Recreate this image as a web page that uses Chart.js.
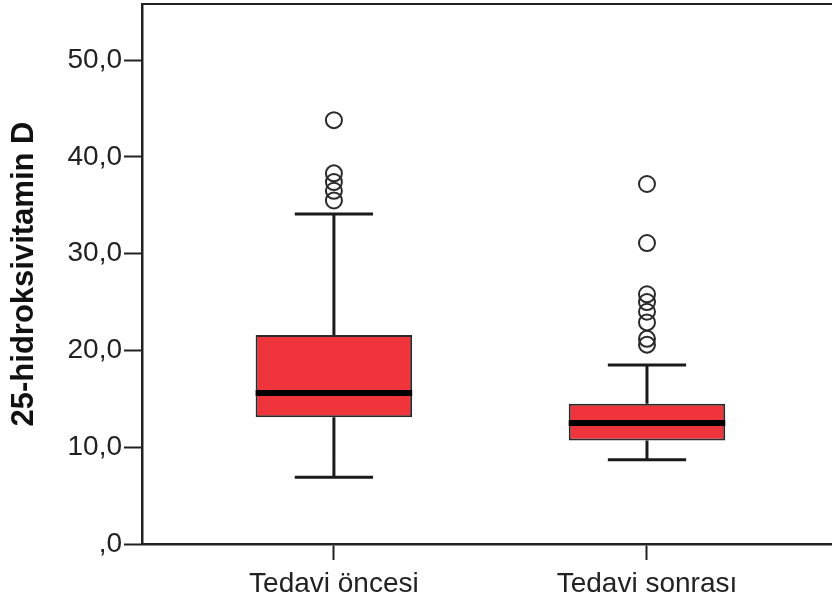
<!DOCTYPE html>
<html>
<head>
<meta charset="utf-8">
<script src="https://cdn.jsdelivr.net/npm/chart.js@4"></script>
<style>
  html, body { margin: 0; padding: 0; background: #fff; }
</style>
</head>
<body>
<canvas id="boxChart" width="832" height="603"></canvas>
<script>
// values
const groups = ["Tedavi öncesi", "Tedavi sonrası"];
const q1 = [13.1, 10.7];
const median = [15.6, 12.5];
const q3 = [21.6, 14.5];
const whiskerLow = [6.9, 8.7];
const whiskerHigh = [34.1, 18.5];
const outliers = [
  [43.8, 38.3, 37.4, 36.5, 35.5],
  [37.2, 31.1, 25.8, 25.0, 24.0, 22.9, 21.2, 20.6]
];
const yTicks = [0, 10, 20, 30, 40, 50];

const BOX_HALF = 0.25;
const CAP_HALF = 0.125;

document.addEventListener("DOMContentLoaded", function() {
  const boxes = groups.map((g, i) => ({ x: i + 1, y: [q1[i], q3[i]] }));

  const whiskers = [];
  groups.forEach((g, i) => {
    const x = i + 1;
    whiskers.push({ x: x - CAP_HALF, y: whiskerLow[i] }, { x: x + CAP_HALF, y: whiskerLow[i] }, { x: x, y: null });
    whiskers.push({ x: x, y: whiskerLow[i] }, { x: x, y: q1[i] }, { x: x, y: null });
    whiskers.push({ x: x, y: q3[i] }, { x: x, y: whiskerHigh[i] }, { x: x, y: null });
    whiskers.push({ x: x - CAP_HALF, y: whiskerHigh[i] }, { x: x + CAP_HALF, y: whiskerHigh[i] }, { x: x, y: null });
  });

  const medians = [];
  groups.forEach((g, i) => {
    medians.push({ x: i + 1 - BOX_HALF, y: median[i] }, { x: i + 1 + BOX_HALF, y: median[i] }, { x: i + 1, y: null });
  });

  const outlierPoints = [];
  outliers.forEach((list, i) => list.forEach(v => outlierPoints.push({ x: i + 1, y: v })));

  const tickFont = { family: "'Liberation Sans', Arial, sans-serif", size: 28 };
  const ink = "#222";

  const ctx = document.getElementById("boxChart").getContext("2d");
  new Chart(ctx, {
    type: "bar",
    data: {
      datasets: [{
        type: "bar",
        data: boxes,
        backgroundColor: "#f0343c",
        borderColor: "#2a2a2a",
        borderWidth: 2,
        borderSkipped: false,
        barPercentage: 1,
        categoryPercentage: 0.5,
        order: 3
      }, {
        type: "line",
        data: whiskers,
        borderColor: "#1a1a1a",
        borderWidth: 3,
        pointRadius: 0,
        spanGaps: false,
        order: 4
      }, {
        type: "line",
        data: medians,
        borderColor: "#000",
        borderWidth: 6,
        borderCapStyle: "butt",
        pointRadius: 0,
        spanGaps: false,
        order: 1
      }, {
        type: "scatter",
        data: outlierPoints,
        pointRadius: 8,
        pointBorderWidth: 2,
        pointBorderColor: "#2a2a2a",
        pointBackgroundColor: "rgba(255,255,255,0)",
        order: 0
      }]
    },
    options: {
      responsive: false,
      animation: false,
      layout: { padding: 0, autoPadding: false },
      plugins: { legend: { display: false }, tooltip: { enabled: false } },
      scales: {
        x: {
          type: "linear",
          position: "bottom",
          offset: false,
          min: 0.387,
          max: 2.591,
          afterBuildTicks: scale => { scale.ticks = groups.map((g, i) => ({ value: i + 1 })); },
          afterFit: scale => { scale.height = 59; scale.paddingLeft = 0; scale.paddingRight = 0; },
          ticks: {
            autoSkip: false,
            maxRotation: 0,
            padding: 7,
            font: tickFont,
            color: ink,
            callback: v => groups[Math.round(v) - 1]
          },
          grid: { offset: false, drawOnChartArea: false, tickLength: 16, tickWidth: 2, tickColor: ink },
          border: { color: ink, width: 2.5 }
        },
        xTop: {
          type: "linear",
          position: "top",
          offset: false,
          min: 0.387,
          max: 2.591,
          ticks: { display: false },
          grid: { display: false, drawTicks: false, offset: false },
          border: { display: true, color: ink, width: 2 },
          afterFit: scale => { scale.height = 4; scale.paddingLeft = 0; scale.paddingRight = 0; }
        },
        y: {
          type: "linear",
          min: 0,
          max: 55.8,
          afterBuildTicks: scale => { scale.ticks = yTicks.map(v => ({ value: v })); },
          afterFit: scale => { scale.width = 142; scale.paddingTop = 0; scale.paddingBottom = 0; },
          ticks: {
            padding: 2,
            font: tickFont,
            color: ink,
            callback: v => v === 0 ? ",0" : v.toFixed(1).replace(".", ",")
          },
          grid: { drawOnChartArea: false, tickLength: 18, tickWidth: 2, tickColor: ink },
          border: { color: ink, width: 2.5 },
          title: {
            display: true,
            text: "25-hidroksivitamin D",
            color: "#111",
            font: { family: "'Liberation Sans', Arial, sans-serif", size: 31, weight: "bold" },
            padding: { top: 6, bottom: 0 }
          }
        }
      }
    }
  });
});
</script>
</body>
</html>
